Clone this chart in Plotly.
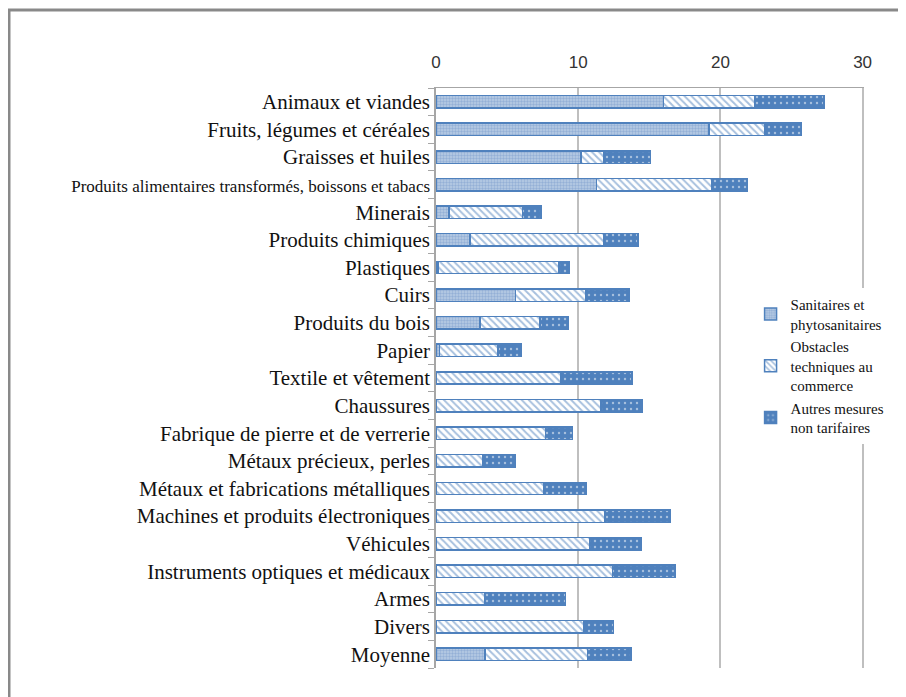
import plotly.graph_objects as go

categories = [
    "Animaux et viandes",
    "Fruits, légumes et céréales",
    "Graisses et huiles",
    "Produits alimentaires transformés, boissons et tabacs",
    "Minerais",
    "Produits chimiques",
    "Plastiques",
    "Cuirs",
    "Produits du bois",
    "Papier",
    "Textile et vêtement",
    "Chaussures",
    "Fabrique de pierre et de verrerie",
    "Métaux précieux, perles",
    "Métaux et fabrications métalliques",
    "Machines et produits électroniques",
    "Véhicules",
    "Instruments optiques et médicaux",
    "Armes",
    "Divers",
    "Moyenne",
]

sps = [16.0, 19.2, 10.2, 11.3, 0.9, 2.4, 0.15, 5.6, 3.1, 0.25, 0, 0, 0, 0, 0, 0, 0, 0, 0, 0, 3.45]
otc = [6.4, 3.9, 1.6, 8.1, 5.2, 9.4, 8.5, 4.9, 4.2, 4.1, 8.8, 11.6, 7.7, 3.3, 7.6, 11.9, 10.8, 12.4, 3.4, 10.4, 7.2]
autres = [4.9, 2.6, 3.3, 2.5, 1.3, 2.4, 0.75, 3.1, 2.0, 1.65, 5.0, 2.9, 1.9, 2.3, 3.0, 4.6, 3.6, 4.4, 5.7, 2.1, 3.05]

series_names = [
    "Sanitaires et<br>phytosanitaires",
    "Obstacles<br>techniques au<br>commerce",
    "Autres mesures<br>non tarifaires",
]

x_ticks = [0, 10, 20, 30]

BLUE = "#4F81BD"
SERIF = "Liberation Serif, Times New Roman, serif"

# the long label is printed smaller in the original
tick_text = [
    f"<span style='font-size:17px'>{c}</span>" if len(c) > 40 else c
    for c in categories
]

patterns = [
    dict(shape=".", bgcolor="#B9CDE5", fgcolor="#6F94C7", size=3, solidity=0.5),
    dict(shape="\\", bgcolor="#FFFFFF", fgcolor=BLUE, size=5, solidity=0.4),
    dict(shape=".", bgcolor=BLUE, fgcolor="#FFFFFF", size=6, solidity=0.12),
]

fig = go.Figure()
for name, values, pat in zip(series_names, [sps, otc, autres], patterns):
    fig.add_trace(go.Bar(
        y=categories,
        x=values,
        name=name,
        orientation="h",
        marker=dict(color=pat["bgcolor"], line=dict(color=BLUE, width=1.5), pattern=pat),
    ))

# page body adds 8px, so the figure is 8px smaller and margins shifted
fig.update_layout(
    barmode="stack",
    bargap=0.55,
    width=898,
    height=689,
    margin=dict(l=428, r=42, t=80, b=29),
    paper_bgcolor="white",
    plot_bgcolor="white",
    showlegend=True,
    legend=dict(
        x=0.735, y=0.655, xanchor="left", yanchor="top",
        traceorder="normal",
        font=dict(family=SERIF, size=15, color="#111111"),
        bgcolor="rgba(255,255,255,1)",
        itemwidth=30,
        tracegroupgap=0,
        valign="middle",
    ),
    shapes=[dict(
        type="rect", xref="paper", yref="paper",
        x0=(1 - 428) / 428, x1=1.2, y0=-0.2, y1=1 + 78 / 580,
        line=dict(color="#898989", width=3), fillcolor="rgba(0,0,0,0)",
        layer="below",
    )],
)

fig.update_xaxes(
    side="top",
    range=[0, 30.1],
    tickvals=x_ticks,
    ticktext=[str(v) for v in x_ticks],
    showgrid=True, gridcolor="#BFBFBF", gridwidth=2,
    showline=True, linecolor="#A6A6A6", linewidth=1,
    ticks="", ticklabelstandoff=12,
    tickfont=dict(family="Liberation Sans, Arial, sans-serif", size=17, color="#333333"),
    zeroline=False,
    fixedrange=True,
)

fig.update_yaxes(
    type="category",
    categoryorder="array",
    categoryarray=categories,
    tickvals=categories,
    ticktext=tick_text,
    autorange="reversed",
    tickson="boundaries",
    ticks="outside", ticklen=6, tickcolor="#A6A6A6",
    showline=True, linecolor="#A6A6A6", linewidth=1.5,
    showgrid=False,
    tickfont=dict(family=SERIF, size=21, color="#111111"),
)

fig.write_html("out.html")
